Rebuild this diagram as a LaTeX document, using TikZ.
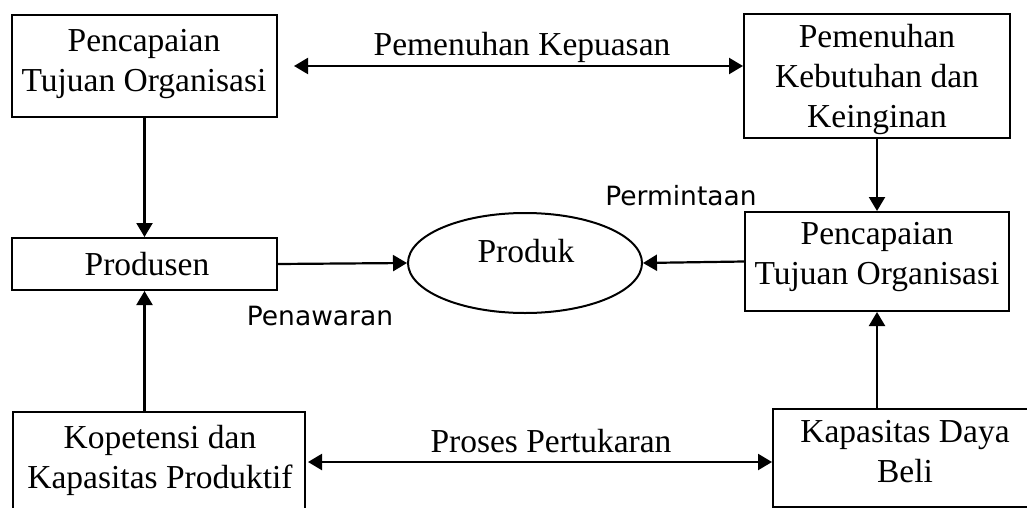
\documentclass[tikz,border=0pt]{standalone}
\usepackage{fontspec}
\setmainfont{Liberation Serif}
\newfontfamily\lblsans{DejaVu Sans}
\usetikzlibrary{arrows.meta,shapes.geometric}
\begin{document}
\begin{tikzpicture}[x=1pt,y=-1pt,
  boxnode/.style={draw,line width=2pt,rectangle,inner sep=0pt},
  txt/.style={anchor=base,align=center,inner sep=0pt,font=\fontsize{33.5}{40}\selectfont},
  sanslbl/.style={anchor=base,inner sep=0pt,font=\lblsans\fontsize{26.5}{30}\selectfont},
  arr/.style={line width=2.2pt,-{Triangle[length=14pt,width=16pt]}},
  dbl/.style={line width=2.2pt,{Triangle[length=14pt,width=16pt]}-{Triangle[length=14pt,width=16pt]}}]
\useasboundingbox (0,0) rectangle (1027,508);
\clip (0,0) rectangle (1027,508);
% boxes
\node[boxnode,minimum width=265pt,minimum height=102pt] (tl) at (144.5,66) {};
\node[boxnode,minimum width=265pt,minimum height=52pt] (prod) at (144.5,264) {};
\node[boxnode,minimum width=266pt,minimum height=124pt] (tr) at (877,76) {};
\node[boxnode,minimum width=264pt,minimum height=99pt] (mr) at (877,261.5) {};
\node[boxnode,minimum width=292pt,minimum height=100pt] (bl) at (159,462) {};
\node[boxnode,minimum width=264pt,minimum height=98pt] (br) at (905,458) {};
\node[draw,line width=2pt,ellipse,minimum width=234pt,minimum height=100pt,inner sep=0pt] (ell) at (525,263) {};
% texts (anchor base = baseline of last line)
\node[txt] (tltxt) at (144,92) {Pencapaian\\Tujuan Organisasi};
\node[txt] (prodtxt) at (147,275) {Produsen};
\node[txt] (trtxt) at (877,128) {Pemenuhan\\Kebutuhan dan\\Keinginan};
\node[txt] (mrtxt) at (877,284) {Pencapaian\\Tujuan Organisasi};
\node[txt] (bltxt) at (160,488) {Kopetensi dan\\Kapasitas Produktif};
\node[txt] (brtxt) at (905,482) {Kapasitas Daya\\Beli};
\node[txt] (elltxt) at (526,262) {Produk};
\node[txt] (toplbl) at (522,56) {Pemenuhan Kepuasan};
\node[txt] (botlbl) at (551,452) {Proses Pertukaran};
\node[sanslbl] (penaw) at (320,325) {Penawaran};
\node[sanslbl] (permin) at (681,205) {Permintaan};
% connectors
\draw[arr] (tl.south) -- (prod.north);
\draw[arr] (prod.east) -- (ell.west);
\draw[arr] (mr.west) -- (ell.east);
\draw[arr] (tr.south) -- (mr.north);
\draw[arr] (mr.south |- br.north) -- (mr.south);
\draw[arr] (prod.south |- bl.north) -- (prod.south);
\draw[dbl] ([xshift=16pt]tl.east) -- (tl.east -| tr.west);
\draw[dbl] ([xshift=2pt]bl.east) -- (bl.east -| br.west);
\end{tikzpicture}
\end{document}
